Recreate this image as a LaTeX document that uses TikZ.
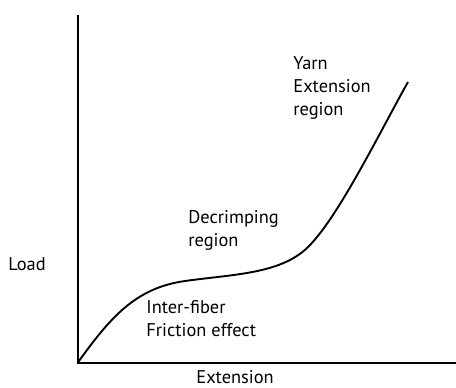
\documentclass[tikz,border=0pt]{standalone}
\usepackage{fontspec}
\setmainfont{PT Sans}
\usetikzlibrary{positioning}

\begin{document}
\begin{tikzpicture}[
        x=0.5pt, y=-0.5pt,
        axis/.style={line width=1pt},
        curve/.style={line width=0.95pt, line join=round},
        label/.style={font=\fontsize{9.2}{11.5}\selectfont, align=left, inner sep=0pt, anchor=north west}
    ]
        \useasboundingbox (0,0) rectangle (456,387);

        % Axes
        \coordinate (top) at (77.5,15);
        \coordinate (origin) at (77.5,363);
        \coordinate (right) at (456,363);
        \draw[axis] (top) -- (origin) -- (right);

        % Load-extension curve
        \coordinate (knee) at (185,281);
        \coordinate (rise) at (310,245);
        \coordinate (tip) at (408,82);
        \draw[curve] (origin) .. controls (110,318) and (135,288) .. (knee)
            .. controls (235,274) and (283,274) .. (rise)
            .. controls (340,214) and (382,128) .. (tip);

        % Axis labels
        \node[label] (load) at (8,257) {Load};
        \node[label] (xlab) at (196,370) {Extension};

        % Regions
        \node[label] (friction) at (146,300) {Inter-fiber\\Friction effect};
        \node[label] (decrimp) at (188,210) {Decrimping\\region};
        \node[label] (yarn) at (293,56) {Yarn\\Extension\\region};
    \end{tikzpicture}
\end{document}
